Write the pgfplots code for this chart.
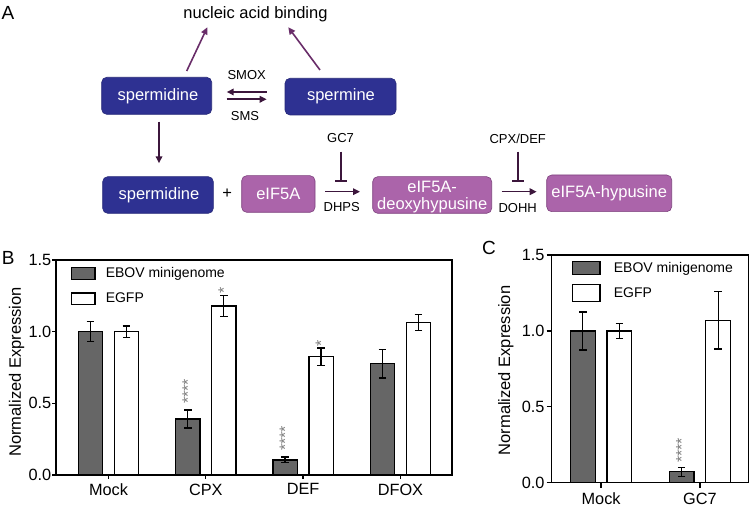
\documentclass[border=0pt]{standalone}
\usepackage{fontspec}
\setmainfont{Liberation Sans}
\usepackage{pgfplots}
\usepackage{pgfplotstable}
\pgfplotsset{compat=1.18}
\usetikzlibrary{arrows.meta}
\definecolor{navy}{RGB}{46,49,146}
\definecolor{navyedge}{RGB}{38,40,120}
\definecolor{pinkbox}{RGB}{171,100,170}
\definecolor{pinkedge}{RGB}{125,65,125}
\definecolor{darrow}{RGB}{60,22,60}
\definecolor{uparrow}{RGB}{105,45,105}
\definecolor{bardark}{RGB}{102,102,102}
\definecolor{stargray}{RGB}{125,125,125}

\pgfplotstableread{
x y e
0 1.00 0.07
1 0.39 0.063
2 0.105 0.02
3 0.777 0.10
}\Bebov
\pgfplotstableread{
x y e
0 1.00 0.04
1 1.18 0.072
2 0.826 0.06
3 1.063 0.055
}\Begfp
\pgfplotstableread{
x y e
0 1.00 0.125
1 0.072 0.03
}\Cebov
\pgfplotstableread{
x y e
0 1.00 0.05
1 1.07 0.19
}\Cegfp

\newcommand{\fsA}{\fontsize{16.3}{18}\selectfont}
\newcommand{\fsB}{\fontsize{16.5}{18}\selectfont}
\newcommand{\fsS}{\fontsize{13}{15}\selectfont}
\newcommand{\fsL}{\fontsize{14}{16}\selectfont}
\newcommand{\fsP}{\fontsize{19}{22}\selectfont}
\newcommand{\fsT}{\fontsize{16}{17}\selectfont}

\pgfplotsset{
  barchart/.style={
    scale only axis,
    anchor=south west,
    ymin=0, ymax=1.5,
    ytick={0,0.5,1,1.5},
    tick align=outside, tick pos=left,
    axis line style={line width=1.3pt},
    every tick/.style={black, line width=1.3pt},
    /pgf/number format/assume math mode=true,
    yticklabel style={/pgf/number format/fixed, /pgf/number format/fixed zerofill, /pgf/number format/precision=1, font=\fsA, inner sep=1pt},
    xticklabel style={font=\fsA},
    ylabel={Normalized Expression},
    ylabel style={font=\fsB, anchor=center},
    legend style={draw=none, fill=none, font=\fsL, anchor=north west, inner sep=0pt, column sep=8pt},
    legend cell align=left,
    ybar, bar width=0.25,
    error bars/y dir=both, error bars/y explicit,
    error bars/error bar style={line width=1.3pt, black},
    error bars/error mark options={rotate=90, mark size=3.8pt, line width=1.3pt, black},
  },
  legB/.style={legend image code/.code={\draw[##1, line width=1.3pt] (0pt,-5.8pt) rectangle (23.6pt,5.8pt);}},
  legC1/.style={legend image code/.code={\draw[##1, line width=1.3pt] (0pt,-6.6pt) rectangle (27.3pt,6.6pt);}},
  legC2/.style={legend image code/.code={\draw[##1, line width=1.3pt] (0pt,-8.5pt) rectangle (27.3pt,8.5pt);}},
}

\begin{document}
\begin{tikzpicture}[x=1pt,y=1pt]
\path[use as bounding box] (0,0) rectangle (751,511);
\tikzset{
  nbox/.style={fill=navy, draw=navyedge, rounded corners=5pt, line width=0.6pt},
  pbox/.style={fill=pinkbox, draw=pinkedge, rounded corners=5pt, line width=0.6pt},
  btext/.style={text=white, font=\fsB, inner sep=0pt},
  arr/.style={draw=darrow, line width=1.6pt, -{Triangle[length=7pt,width=6.5pt]}},
  uarr/.style={draw=uparrow, line width=1.6pt, -{Triangle[length=7pt,width=6.5pt]}},
  inh/.style={draw=darrow, line width=1.6pt, -{Bar[width=12pt,line width=1.6pt]}},
}
% panel A
\node[font=\fsP] at (8,498) {A};
\node[font=\fsB] at (255.5,497) {nucleic acid binding};
\draw[uarr] (186.7,440) -- (207.3,483.7);
\draw[uarr] (320,441) -- (288.3,483.7);
\draw[nbox] (101.7,396.7) rectangle (211.7,433.7);
\node[btext] at (158,415) {spermidine};
\draw[nbox] (285,396) rectangle (396,432.7);
\node[btext] at (341,414.5) {spermine};
\node[font=\fsS] at (246.7,436) {SMOX};
\node[font=\fsS] at (245,395) {SMS};
\draw[arr] (266.7,419) -- (226.7,419);
\draw[arr] (226.7,411.7) -- (266.7,411.7);
\draw[arr] (159,389.3) -- (159,347.7);
\draw[nbox] (102.7,297.7) rectangle (213.3,334.3);
\node[btext] at (159,316) {spermidine};
\node[font=\fsB] at (227.3,317) {+};
\draw[pbox] (241.7,298.7) rectangle (315,335.3);
\node[btext] at (278.3,317) {eIF5A};
\node[font=\fsS] at (340.5,372.7) {GC7};
\draw[inh] (340.7,359.3) -- (340.7,329.3);
\draw[arr] (325,319.3) -- (360,319.3);
\node[font=\fsS] at (341.7,303.7) {DHPS};
\draw[pbox] (372.7,297.7) rectangle (491.7,334.3);
\node[btext] at (432.2,324.3) {eIF5A-};
\node[btext] at (432.2,306) {deoxyhypusine};
\node[font=\fsS] at (517.7,371.7) {CPX/DEF};
\draw[inh] (517.7,359.3) -- (517.7,329.3);
\draw[arr] (501.7,319.3) -- (536.7,319.3);
\node[font=\fsS] at (517.7,302.7) {DOHH};
\draw[pbox] (546.7,299.3) rectangle (671.7,336);
\node[btext] at (609.2,317.5) {eIF5A-hypusine};
% panel letters
\node[font=\fsP] at (8.3,252.7) {B};
\node[font=\fsP] at (489,263) {C};

% panel B
\begin{axis}[barchart, at={(56pt,36pt)}, width=396pt, height=215pt,
  xmin=-0.54, xmax=3.53, xtick={0,1,2,3}, xticklabels={Mock,CPX,DEF,DFOX},
  major tick length=3.5pt,
  xticklabel style={inner sep=5pt},
  ylabel style={at={(axis description cs:-0.0992,0.48)}},
  legend style={at={(rel axis cs:0.037,0.975)}, row sep=10pt},
  legB,
]
\addplot[fill=bardark, draw=black, line width=1.3pt, bar shift=-0.185] table[x=x, y=y, y error=e] {\Bebov};
\addlegendentry{EBOV minigenome}
\addplot[fill=white, draw=black, line width=1.3pt, bar shift=0.185] table[x=x, y=y, y error=e] {\Begfp};
\addlegendentry{EGFP}
\node[rotate=90, text=stargray, font=\fsT, inner sep=0pt] at (axis cs:0.815,0.583) {****};
\node[rotate=90, text=stargray, font=\fsT, inner sep=0pt] at (axis cs:1.815,0.256) {****};
\node[rotate=90, text=stargray, font=\fsT, inner sep=0pt] at (axis cs:1.185,1.291) {*};
\node[rotate=90, text=stargray, font=\fsT, inner sep=0pt] at (axis cs:2.185,0.919) {*};
\end{axis}

% panel C
\begin{axis}[barchart, at={(551.7pt,28.3pt)}, width=196.6pt, height=227.7pt,
  xmin=-0.5, xmax=1.49, xtick={0,1}, xticklabels={Mock,GC7},
  major tick length=5pt,
  xticklabel style={inner sep=5pt},
  yticklabel style={inner sep=2pt},
  ylabel style={at={(axis description cs:-0.2335,0.493)}},
  legend style={at={(rel axis cs:0.102,0.978)}, row sep=8pt, column sep=11.3pt},
]
\addplot[fill=bardark, draw=black, line width=1.3pt, bar shift=-0.185, legC1] table[x=x, y=y, y error=e] {\Cebov};
\addlegendentry{EBOV minigenome}
\addplot[fill=white, draw=black, line width=1.3pt, bar shift=0.185, legC2] table[x=x, y=y, y error=e] {\Cegfp};
\addlegendentry{EGFP}
\node[rotate=90, text=stargray, font=\fsT, inner sep=0pt] at (axis cs:0.815,0.212) {****};
\end{axis}
\end{tikzpicture}
\end{document}
